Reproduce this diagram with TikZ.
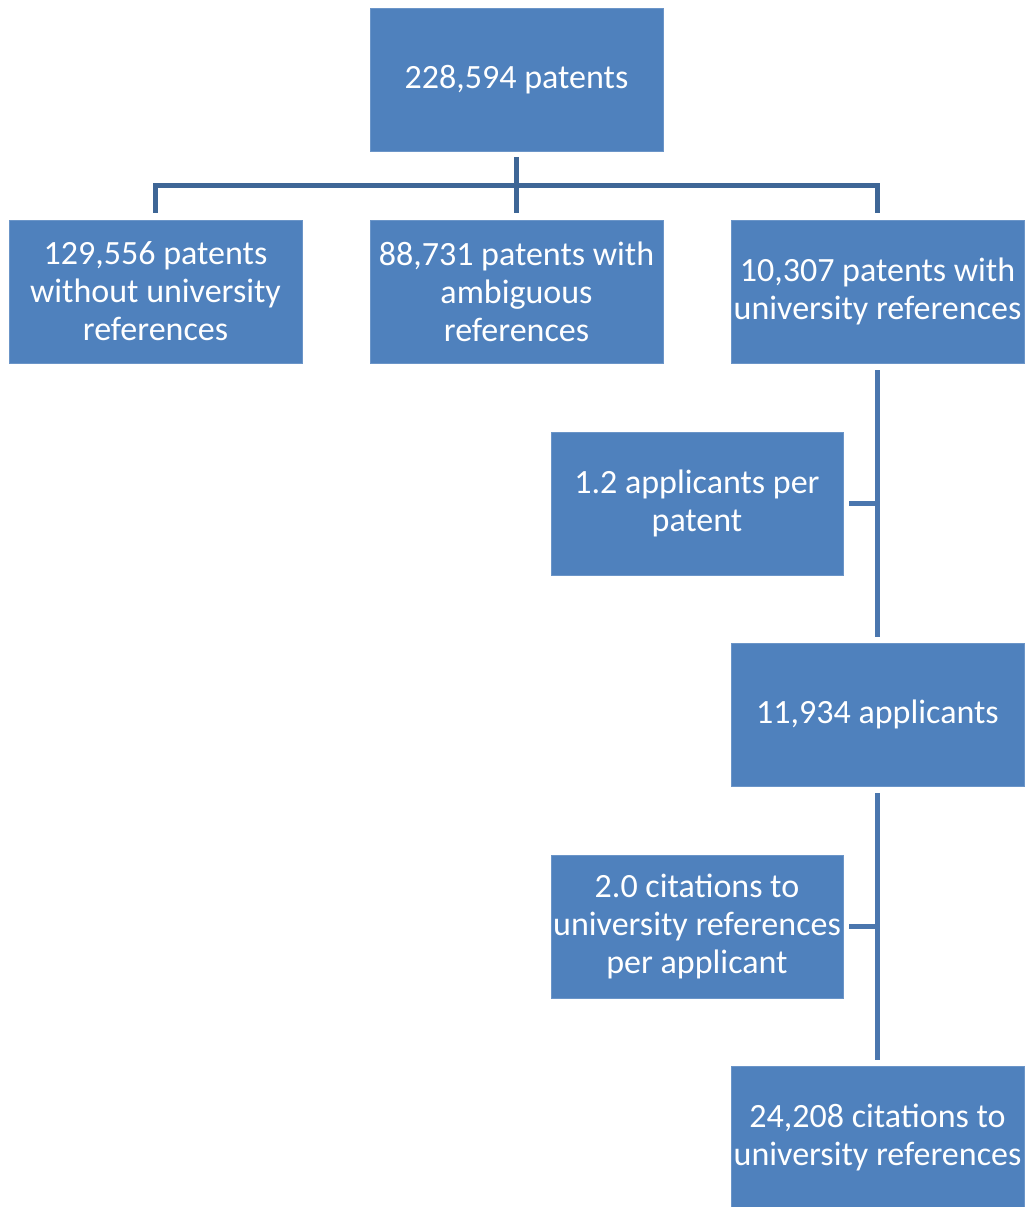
\documentclass[tikz,border=0pt]{standalone}
\usepackage{fontspec}
\setmainfont{Carlito}
\definecolor{boxblue}{HTML}{4F81BD}
\definecolor{boxedge}{HTML}{6B95C8}
\definecolor{topline}{HTML}{3E6696}
\definecolor{spine}{HTML}{4A76AE}
\begin{document}
\begin{tikzpicture}[x=1pt,y=-1pt,
  box/.style={fill=boxblue, draw=boxedge, line width=0.8pt, text=white,
    minimum width=293pt, minimum height=143pt, inner sep=0pt, align=center,
    font=\fontsize{34}{38}\selectfont},
  sidebox/.style={box, minimum width=292pt},
  conn/.style={line width=5pt, draw=topline},
  sconn/.style={line width=5pt, draw=spine}]
\useasboundingbox (0,0) rectangle (1031,1207);
\node[box] (top) at (516.5,80) {228,594 patents};
\node[box] (b1) at (155.5,291.5) {129,556 patents\\without university\\references};
\node[box] (b2) at (516.5,291.5) {88,731 patents with\\ambiguous\\references};
\node[box] (b3) at (877.5,291.5) {10,307 patents with\\university references};
\node[sidebox] (r1) at (697,503.5) {1.2 applicants per\\patent};
\node[box] (apps) at (877.5,714.5) {11,934 applicants};
\node[sidebox] (r2) at (697,926.5) {2.0 citations to\\university references\\per applicant};
\node[box] (cites) at (877.5,1137.5) {24,208 citations to\\university references};
\coordinate (j) at (516.5,185);
\draw[conn] ([yshift=-5pt]top.south) -- (j);
\draw[conn] ([yshift=7pt]b1.north) |- (j) -| ([yshift=7pt]b3.north);
\draw[conn] (j) -- ([yshift=7pt]b2.north);
\draw[sconn] ([yshift=-7pt]b3.south) -- ([yshift=6pt]apps.north);
\draw[sconn] ([xshift=6pt]r1.east) -- (r1.east -| b3.south);
\draw[sconn] ([yshift=-7pt]apps.south) -- ([yshift=6pt]cites.north);
\draw[sconn] ([xshift=6pt]r2.east) -- (r2.east -| apps.south);
\end{tikzpicture}
\end{document}
